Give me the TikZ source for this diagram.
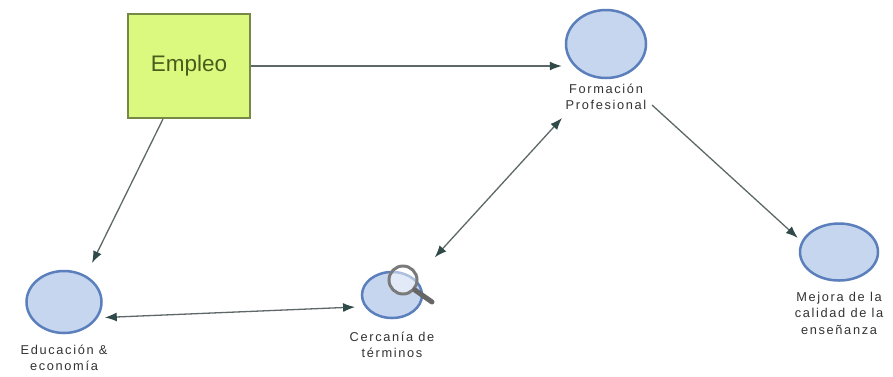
\documentclass[tikz,border=0pt]{standalone}
\usepackage{fontspec}
\setmainfont{Liberation Sans}
\newfontfamily\lblfont[LetterSpace=13]{Liberation Sans}
\usetikzlibrary{shapes.geometric,arrows.meta,calc}
\definecolor{bubfill}{HTML}{C7D6EF}
\definecolor{bubline}{HTML}{5A7FBC}
\definecolor{empfill}{HTML}{DBF97F}
\definecolor{empline}{HTML}{768845}
\definecolor{emptext}{HTML}{4A5C1C}
\definecolor{conncol}{HTML}{5E6868}
\definecolor{tipc}{HTML}{2F4A48}
\definecolor{lbltext}{HTML}{333333}
\definecolor{lensring}{HTML}{7A7A7A}
\definecolor{lenshandle}{HTML}{666666}
\begin{document}
\begin{tikzpicture}[x=1pt,y=-1pt,
  bubble/.style={ellipse, draw=bubline, line width=2.5pt, fill=bubfill, inner sep=0pt},
  lbl/.style={font=\lblfont\fontsize{12.8}{16.5}\selectfont, text=lbltext, align=center, inner sep=1pt},
  conn/.style={draw=conncol, line width=1.3pt, -{Latex[length=12pt,width=9pt,color=tipc]}},
  both/.style={draw=conncol, line width=1.3pt, {Latex[length=12pt,width=9pt,color=tipc]}-{Latex[length=12pt,width=9pt,color=tipc]}}]
\useasboundingbox[fill=white] (0,0) rectangle (893,376);

\node[draw=empline, line width=2pt, fill=empfill, minimum width=122pt, minimum height=104pt,
      font=\fontsize{22.5}{26}\selectfont, text=emptext] (emp) at (189,66) {Empleo};

\node[bubble, minimum width=80pt, minimum height=68pt] (form) at (606,44) {};
\node[lbl] (formlbl) at (606,97) {Formación\\Profesional};

\node[bubble, minimum width=75pt, minimum height=62pt] (edu) at (64,302) {};
\node[lbl] (edulbl) at (64,358) {Educación \&\\economía};

\node[bubble, minimum width=60pt, minimum height=46pt] (cerc) at (392,295) {};
\node[lbl] (cerclbl) at (392,345) {Cercanía de\\términos};

\node[bubble, minimum width=78pt, minimum height=57pt] (mej) at (839,252) {};
\node[lbl] (mejlbl) at (839,313) {Mejora de la\\calidad de la\\enseñanza};

% magnifier
\node[circle, draw=lensring, line width=3pt, fill=white, fill opacity=0.5, draw opacity=1,
      minimum size=28pt, inner sep=0pt] (lens) at (403,280) {};
\coordinate (handleend) at (432,302);
\draw[lenshandle, line width=5pt, line cap=round] (lens.-40) -- (handleend);

% connectors
\draw[conn, shorten >=3pt] (emp.east) -- (emp.east -| form.west);
\draw[conn, shorten >=15pt] ($(emp.south)+(-26,0)$) -- ($(edu.center)+(21.4,-25.5)$);
\draw[both, shorten <=7pt, shorten >=9.5pt] (edu.-25) -- (cerc.203);
\draw[both, shorten <=29pt] (cerc.35) -- ($(form.center)+(-44,74)$);
\draw[conn, shorten >=5pt] ($(form.center)+(46,61)$) -- (mej.164);
\end{tikzpicture}
\end{document}
